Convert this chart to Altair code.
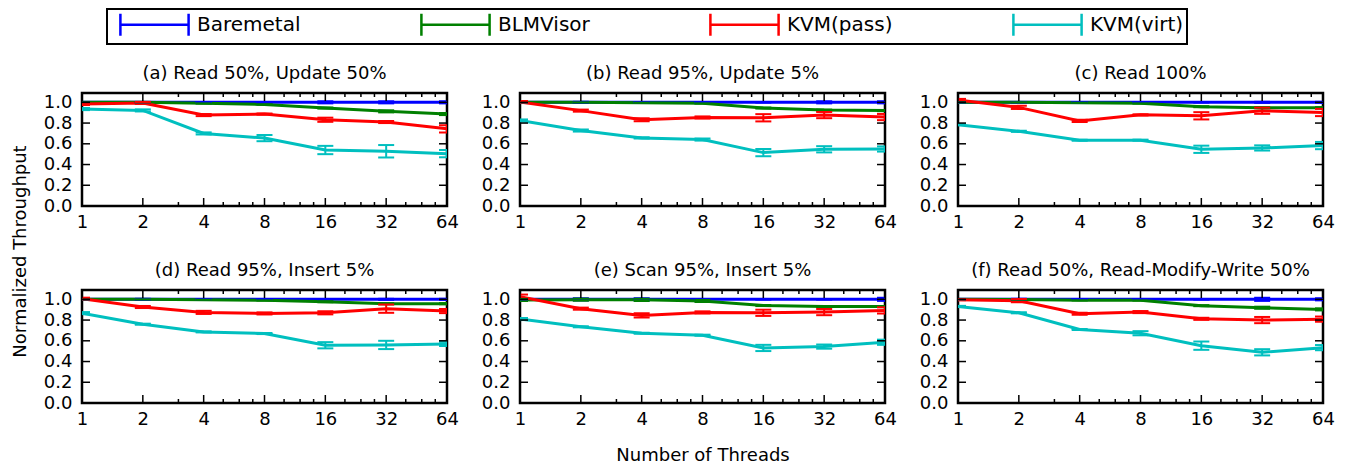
import altair as alt
import pandas as pd

THREADS = [1, 2, 4, 8, 16, 32, 64]
SERIES = ["Baremetal", "BLMVisor", "KVM(pass)", "KVM(virt)"]
COLORS = ["#0000ff", "#008000", "#ff0000", "#00bfbf"]
MAJOR_TICKS = [1, 2, 4, 8, 16, 32, 64]
MINOR_TICKS = [3, 5, 6, 7, 10, 12, 14, 20, 24, 28, 40, 48, 56]
Y_TICKS = [0.0, 0.2, 0.4, 0.6, 0.8, 1.0]
TITLES = ["(a) Read 50%, Update 50%", "(b) Read 95%, Update 5%", "(c) Read 100%",
          "(d) Read 95%, Insert 5%", "(e) Scan 95%, Insert 5%",
          "(f) Read 50%, Read-Modify-Write 50%"]

# (a)
A_BARE = [1.0, 1.0, 1.0, 1.0, 1.0, 1.0, 1.0]
A_BARE_ERR = [0.0, 0.0, 0.0, 0.0, 0.01, 0.01, 0.01]
A_BLM = [1.0, 1.0, 0.99, 0.98, 0.945, 0.913, 0.887]
A_BLM_ERR = [0.0, 0.0, 0.0, 0.0, 0.005, 0.01, 0.01]
A_PASS = [0.984, 0.994, 0.877, 0.887, 0.832, 0.81, 0.744]
A_PASS_ERR = [0.01, 0.01, 0.01, 0.005, 0.02, 0.01, 0.035]
A_VIRT = [0.935, 0.922, 0.70, 0.655, 0.54, 0.528, 0.505]
A_VIRT_ERR = [0.01, 0.01, 0.01, 0.03, 0.04, 0.06, 0.035]
# (b)
B_BARE = [1.0, 1.0, 1.0, 1.0, 1.0, 1.0, 1.0]
B_BARE_ERR = [0.0, 0.005, 0.0, 0.0, 0.0, 0.01, 0.01]
B_BLM = [1.0, 1.0, 0.995, 0.99, 0.945, 0.925, 0.92]
B_BLM_ERR = [0.0, 0.0, 0.0, 0.0, 0.005, 0.005, 0.005]
B_PASS = [1.003, 0.92, 0.832, 0.854, 0.851, 0.877, 0.858]
B_PASS_ERR = [0.01, 0.01, 0.015, 0.01, 0.035, 0.03, 0.03]
B_VIRT = [0.825, 0.728, 0.657, 0.641, 0.515, 0.547, 0.55]
B_VIRT_ERR = [0.01, 0.01, 0.005, 0.01, 0.035, 0.03, 0.025]
# (c)
C_BARE = [1.0, 1.0, 1.0, 1.0, 1.0, 1.0, 1.0]
C_BARE_ERR = [0.0, 0.0, 0.0, 0.0, 0.0, 0.005, 0.005]
C_BLM = [1.0, 1.0, 0.995, 0.99, 0.958, 0.948, 0.948]
C_BLM_ERR = [0.0, 0.0, 0.0, 0.0, 0.005, 0.005, 0.005]
C_PASS = [1.023, 0.951, 0.821, 0.879, 0.87, 0.919, 0.902]
C_PASS_ERR = [0.01, 0.015, 0.01, 0.005, 0.035, 0.03, 0.035]
C_VIRT = [0.785, 0.72, 0.635, 0.635, 0.547, 0.56, 0.583]
C_VIRT_ERR = [0.005, 0.005, 0.005, 0.005, 0.035, 0.025, 0.035]
# (d)
D_BARE = [1.0, 1.0, 1.0, 1.0, 1.0, 1.0, 1.0]
D_BARE_ERR = [0.0, 0.005, 0.0, 0.0, 0.0, 0.005, 0.005]
D_BLM = [1.0, 1.0, 0.995, 0.99, 0.977, 0.958, 0.958]
D_BLM_ERR = [0.0, 0.0, 0.0, 0.0, 0.005, 0.005, 0.005]
D_PASS = [1.006, 0.926, 0.874, 0.864, 0.87, 0.91, 0.887]
D_PASS_ERR = [0.01, 0.01, 0.015, 0.01, 0.015, 0.04, 0.02]
D_VIRT = [0.867, 0.76, 0.686, 0.67, 0.557, 0.56, 0.57]
D_VIRT_ERR = [0.01, 0.005, 0.005, 0.005, 0.03, 0.04, 0.02]
# (e)
E_BARE = [1.0, 1.0, 1.0, 1.0, 1.0, 1.0, 1.0]
E_BARE_ERR = [0.0, 0.01, 0.01, 0.0, 0.0, 0.0, 0.015]
E_BLM = [0.994, 0.997, 0.995, 0.984, 0.94, 0.93, 0.93]
E_BLM_ERR = [0.01, 0.01, 0.01, 0.01, 0.005, 0.005, 0.005]
E_PASS = [1.026, 0.91, 0.845, 0.874, 0.87, 0.877, 0.893]
E_PASS_ERR = [0.02, 0.01, 0.02, 0.01, 0.03, 0.03, 0.03]
E_VIRT = [0.81, 0.735, 0.673, 0.654, 0.531, 0.544, 0.586]
E_VIRT_ERR = [0.01, 0.005, 0.005, 0.005, 0.03, 0.02, 0.025]
# (f)
F_BARE = [1.0, 1.0, 1.0, 1.0, 1.0, 1.0, 1.0]
F_BARE_ERR = [0.0, 0.005, 0.0, 0.0, 0.0, 0.015, 0.01]
F_BLM = [1.0, 0.998, 0.99, 0.99, 0.939, 0.919, 0.903]
F_BLM_ERR = [0.0, 0.0, 0.0, 0.0, 0.005, 0.01, 0.01]
F_PASS = [0.997, 0.987, 0.861, 0.877, 0.812, 0.80, 0.809]
F_PASS_ERR = [0.005, 0.015, 0.01, 0.01, 0.01, 0.03, 0.025]
F_VIRT = [0.932, 0.87, 0.709, 0.673, 0.553, 0.489, 0.534]
F_VIRT_ERR = [0.005, 0.005, 0.005, 0.02, 0.04, 0.03, 0.025]

PANELS = [
    (A_BARE, A_BARE_ERR, A_BLM, A_BLM_ERR, A_PASS, A_PASS_ERR, A_VIRT, A_VIRT_ERR),
    (B_BARE, B_BARE_ERR, B_BLM, B_BLM_ERR, B_PASS, B_PASS_ERR, B_VIRT, B_VIRT_ERR),
    (C_BARE, C_BARE_ERR, C_BLM, C_BLM_ERR, C_PASS, C_PASS_ERR, C_VIRT, C_VIRT_ERR),
    (D_BARE, D_BARE_ERR, D_BLM, D_BLM_ERR, D_PASS, D_PASS_ERR, D_VIRT, D_VIRT_ERR),
    (E_BARE, E_BARE_ERR, E_BLM, E_BLM_ERR, E_PASS, E_PASS_ERR, E_VIRT, E_VIRT_ERR),
    (F_BARE, F_BARE_ERR, F_BLM, F_BLM_ERR, F_PASS, F_PASS_ERR, F_VIRT, F_VIRT_ERR),
]

W, H = 365, 113
FONT = "DejaVu Sans"
# error-bar legend glyph: unit = half cap height; extends +/-3.1 units horizontally
LEG_PATH = "M-3.1,-1L-3.1,1M-3.1,0L3.1,0M3.1,-1L3.1,1"

xscale = alt.Scale(type="log", base=2, domain=[1, 64], nice=False)
yscale = alt.Scale(domain=[0, 1.09], nice=False, zero=False)

xtick_df = pd.DataFrame({"threads": MAJOR_TICKS + MINOR_TICKS,
                         "len": [16] * len(MAJOR_TICKS) + [8] * len(MINOR_TICKS)})
ytick_df = pd.DataFrame({"value": Y_TICKS})


def make_panel(i):
    bare, bare_e, blm, blm_e, kp, kp_e, kv, kv_e = PANELS[i]
    rows = []
    for k, (name, vals, errs) in enumerate(zip(SERIES, [bare, blm, kp, kv], [bare_e, blm_e, kp_e, kv_e])):
        for t, v, e in zip(THREADS, vals, errs):
            rows.append({"threads": t, "series": name, "k": k, "value": v, "lo": v - e, "hi": v + e})
    df = pd.DataFrame(rows)

    xkw = dict(values=MAJOR_TICKS, format="d", ticks=False, domain=False, grid=False,
               labelFlush=False, labelOverlap=False, labelPadding=7)
    if i == 4:
        xkw.update(title="Number of Threads", titlePadding=18)
    else:
        xkw.update(title=None)
    ykw = dict(values=Y_TICKS, format=".1f", ticks=False, domain=False, grid=False,
               labelOverlap=False, labelPadding=10)
    if i == 0:
        ykw.update(title="Normalized Throughput", titlePadding=14, titleY=158)
    else:
        ykw.update(title=None)
    xaxis = alt.Axis(**xkw)
    yaxis = alt.Axis(**ykw)

    X = alt.X("threads:Q", scale=xscale, axis=xaxis)
    Y = alt.Y("value:Q", scale=yscale, axis=yaxis)
    YLO = alt.Y("lo:Q", scale=yscale, axis=yaxis)
    YHI = alt.Y("hi:Q", scale=yscale, axis=yaxis)
    C = alt.Color("series:N", scale=alt.Scale(domain=SERIES, range=COLORS),
                  legend=alt.Legend(title=None, symbolType=LEG_PATH))

    base = alt.Chart(df)
    lines = base.mark_line(strokeWidth=3, clip=True).encode(x=X, y=Y, color=C, order="threads:Q")
    bars = base.mark_rule(strokeWidth=2, clip=True).encode(x=X, y=YLO, y2="hi:Q", color=C)
    cap_lo = base.mark_tick(orient="horizontal", size=16, thickness=2, opacity=1, clip=True).encode(
        x=X, y=YLO, color=C)
    cap_hi = base.mark_tick(orient="horizontal", size=16, thickness=2, opacity=1, clip=True).encode(
        x=X, y=YHI, color=C)

    tx = alt.Chart(xtick_df)
    xt_bot = tx.mark_tick(orient="vertical", thickness=1.5, color="black", opacity=1, clip=True).encode(
        x=X, y=alt.value(H), size=alt.Size("len:Q", scale=None, legend=None))
    xt_top = tx.mark_tick(orient="vertical", thickness=1.5, color="black", opacity=1, clip=True).encode(
        x=X, y=alt.value(0), size=alt.Size("len:Q", scale=None, legend=None))
    ty = alt.Chart(ytick_df)
    yt_l = ty.mark_tick(orient="horizontal", size=16, thickness=1.5, color="black", opacity=1, clip=True).encode(
        y=Y, x=alt.value(0))
    yt_r = ty.mark_tick(orient="horizontal", size=16, thickness=1.5, color="black", opacity=1, clip=True).encode(
        y=Y, x=alt.value(W))

    return alt.layer(lines, bars, cap_lo, cap_hi, xt_bot, xt_top, yt_l, yt_r).properties(
        width=W, height=H, title=TITLES[i])


panels = [make_panel(i) for i in range(6)]

chart = alt.concat(*panels, columns=3, spacing=alt.RowColnumber(row=84, column=73), bounds="flush").properties(
    padding={"left": 2, "top": 0, "right": 5, "bottom": 5}
).configure(font=FONT).configure_view(
    stroke="black", strokeWidth=2.5
).configure_axis(
    labelFont=FONT, labelFontSize=18, labelColor="black",
    titleFont=FONT, titleFontSize=18, titleFontWeight="normal", titleColor="black"
).configure_title(
    font=FONT, fontSize=18, fontWeight="normal", color="black", offset=10, anchor="middle", frame="group"
).configure_legend(
    orient="none", legendX=25, legendY=-84, direction="horizontal", columns=4,
    symbolSize=484, symbolOffset=32, symbolStrokeWidth=2.5, labelFont=FONT, labelFontSize=20,
    labelColor="black", labelOffset=30, columnPadding=110, strokeColor="black", strokeWidth=2,
    fillColor="white", padding=3, cornerRadius=0
)

chart.save("out.html", embed_options={"renderer": "svg", "actions": False})
